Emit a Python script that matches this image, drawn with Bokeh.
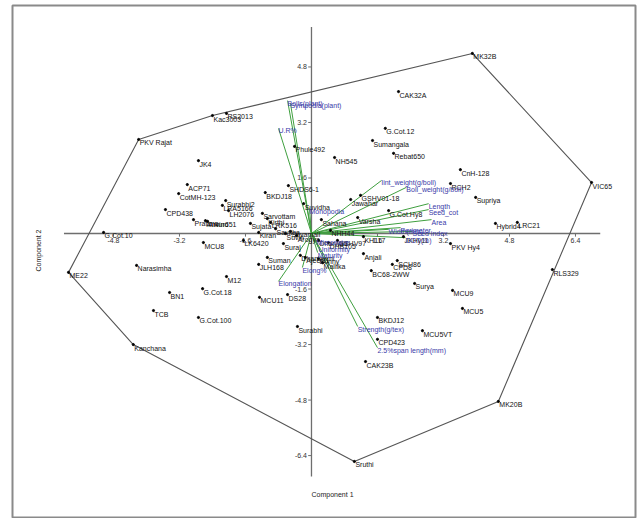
from bokeh.plotting import figure
from bokeh.models import ColumnDataSource
from bokeh.embed import file_html
from bokeh.resources import INLINE
from bokeh.core.properties import value
import numpy as np

# ---------------- data ----------------
geno_names = [
    "PKV Rajat", "Kac3003", "RS2013", "MK32B", "VIC65", "RLS329", "MK20B", "Sruthi",
    "Kanchana", "ME22", "JK4", "ACP71", "CotMH-123", "CPD438", "Pratima", "Ankur651",
    "Arvind", "Surabhi2", "LRA5166", "LH2076", "BKDJ18", "SHDS6-1", "Phule492", "G.Cot.10",
    "Narasimha", "MCU8", "M12", "G.Cot.18", "BN1", "TCB", "G.Cot.100", "MCU11", "DS28",
    "Surabhi", "Suman", "JLH168", "CAK32A", "G.Cot.12", "Sumangala", "Rebat650", "NH545",
    "CnH-128", "RCH2", "Supriya", "Hybrid4", "LRC21", "PKV Hy4", "Anjali", "SCH86", "CPD8",
    "BC68-2WW", "Surya", "MCU9", "MCU5", "BKDJ12", "MCU5VT", "CPD423", "CAK23B", "Jawahar",
    "GSHV01-18", "G.Cot.Hy8", "Sahana", "Varsha", "Suvidha", "JKHy11", "LK6420", "Suraj",
    "Kirthi", "LRK516", "Sarvottam", "Savitha", "Suvin", "Shyamali", "Arogya", "Dharwad",
    "DHB105", "GSHV97", "NHH44", "KH117", "Ajeet11", "Bunny", "Mallika", "Sujata", "Kiran",
    "Dhanlaxmi",
]
geno_pc1 = [
    -4.19, -2.40, -2.06, 3.90, 6.79, 5.84, 4.53, 1.04,
    -4.32, -5.89, -2.74, -3.01, -3.22, -3.54, -2.86, -2.57,
    -2.52, -2.08, -2.16, -2.01, -1.12, -0.56, -0.41, -5.04,
    -4.24, -2.62, -2.06, -2.64, -3.44, -3.83, -2.74, -1.26, -0.58,
    -0.34, -1.07, -1.28, 2.11, 1.79, 1.48, 1.99, 0.56,
    3.61, 3.37, 3.98, 4.46, 4.99, 3.37, 1.26, 2.08, 1.96,
    1.45, 2.50, 3.42, 3.66, 1.60, 2.69, 1.60, 1.31, 0.95,
    1.19, 1.87, 0.24, 1.12, -0.19, 2.23, -1.65, -0.68,
    -1.07, -0.99, -1.19, -0.87, -0.63, -0.51, -0.36, 0.17,
    0.41, 0.63, 0.46, 1.26, -0.15, 0.17, 0.27, -1.48, -1.28,
    -0.27,
]
geno_pc2 = [
    2.71, 3.40, 3.46, 5.19, 1.47, -1.04, -4.84, -6.57,
    -3.20, -1.12, 2.10, 1.41, 1.15, 0.69, 0.40, 0.37,
    0.35, 0.95, 0.81, 0.66, 1.18, 1.38, 2.51, 0.03,
    -0.92, -0.26, -1.24, -1.59, -1.70, -2.22, -2.42, -1.84, -1.76,
    -2.68, -0.69, -0.89, 4.09, 3.03, 2.68, 2.31, 2.19,
    1.84, 1.44, 1.04, 0.29, 0.32, -0.29, -0.58, -0.78, -0.89,
    -1.07, -1.44, -1.64, -2.16, -2.42, -2.80, -3.05, -3.69, 0.98,
    1.10, 0.66, 0.40, 0.46, 0.86, -0.09, -0.20, -0.29,
    0.43, 0.32, 0.58, 0.14, 0.00, 0.06, -0.06, -0.20,
    -0.26, -0.20, 0.09, -0.09, -0.69, -0.72, -0.84, 0.29, 0.03,
    -0.63,
]

var_names = [
    "Bolls(plant)", "Sympodia(plant)", "U.R%", "Monopodia", "lint_weight(g/boll)",
    "Boll_weight(g/boll)", "Length", "Seed_cot", "Area", "Width(mm)", "Seed index",
    "Perimeter", "GOT(%)", "Micronaire", "Uniformity", "Maturity", "Elong%",
    "Elongation", "Strength(g/tex)", "2.5%span length(mm)",
]
var_pc1 = [
    -0.58, -0.51, -0.80, -0.05, 1.70,
    2.30, 2.84, 2.84, 2.91, 1.87, 2.45,
    2.16, 2.28, 0.12, 0.17, 0.15, -0.22,
    -0.80, 1.12, 1.60,
]
var_pc2 = [
    3.83, 3.75, 3.03, 0.72, 1.53,
    1.33, 0.86, 0.69, 0.40, 0.12, 0.06,
    0.17, -0.12, -0.20, -0.40, -0.55, -0.98,
    -1.38, -2.68, -3.29,
]

x_ticks = [-4.8, -3.2, -1.6, 1.6, 3.2, 4.8, 6.4]
y_ticks = [-6.4, -4.8, -3.2, -1.6, 1.6, 3.2, 4.8]
x_axis_span = [-6.0, 7.0]
y_axis_span = [-7.0, 5.95]

# ---------------- figure ----------------
FONT = value("Liberation Sans")
p = figure(width=639, height=518, output_backend="svg", toolbar_location=None,
           x_range=(-7.248, 7.855), y_range=(-8.213, 6.571),
           x_axis_location=None, y_axis_location=None,
           min_border_left=12, min_border_right=4, min_border_top=5, min_border_bottom=0)
p.grid.grid_line_color = None
p.outline_line_color = "#8a8a8a"
p.outline_line_width = 2
p.background_fill_color = "white"
p.border_fill_color = "white"

# crossing axes
p.segment(x0=[x_axis_span[0]], y0=[0], x1=[x_axis_span[1]], y1=[0], line_color="#6e6e6e", line_width=1.3)
p.segment(x0=[0], y0=[y_axis_span[0]], x1=[0], y1=[y_axis_span[1]], line_color="#6e6e6e", line_width=1.3)
xt = np.array(x_ticks)
yt = np.array(y_ticks)
p.segment(x0=xt, y0=np.zeros_like(xt), x1=xt, y1=np.full_like(xt, -0.09), line_color="#6e6e6e", line_width=1)
p.segment(x0=np.zeros_like(yt), y0=yt, x1=np.full_like(yt, -0.08), y1=yt, line_color="#6e6e6e", line_width=1)
p.text(x=xt, y=np.full_like(xt, -0.12), text=[f"{v:g}" for v in x_ticks],
       text_font=FONT, text_font_size="7px", text_align="center", text_baseline="top", text_color="#333333")
p.text(x=np.full_like(yt, -0.11), y=yt, text=[f"{v:g}" for v in y_ticks],
       text_font=FONT, text_font_size="7px", text_align="right", text_baseline="middle", text_color="#333333")

# convex hull of genotype scores
pts = sorted(set(zip(geno_pc1, geno_pc2)))
def cross(o, a, b):
    return (a[0] - o[0]) * (b[1] - o[1]) - (a[1] - o[1]) * (b[0] - o[0])
lower, upper = [], []
for pt in pts:
    while len(lower) >= 2 and cross(lower[-2], lower[-1], pt) <= 0:
        lower.pop()
    lower.append(pt)
for pt in reversed(pts):
    while len(upper) >= 2 and cross(upper[-2], upper[-1], pt) <= 0:
        upper.pop()
    upper.append(pt)
hull = lower[:-1] + upper[:-1] + [lower[0]]
p.line([h[0] for h in hull], [h[1] for h in hull], line_color="#555555", line_width=1.1)

# loadings vectors
vsrc = ColumnDataSource(dict(x=var_pc1, y=var_pc2, name=var_names,
                             x0=[0] * len(var_names), y0=[0] * len(var_names)))
p.segment(x0="x0", y0="y0", x1="x", y1="y", source=vsrc, line_color="#3f9f3f", line_width=1)

# genotype points + labels
gsrc = ColumnDataSource(dict(x=geno_pc1, y=geno_pc2, name=geno_names))
p.scatter(x="x", y="y", source=gsrc, size=2.2, color="black")
p.text(x="x", y="y", text="name", source=gsrc, x_offset=1, y_offset=0,
       text_font=FONT, text_font_size="7px", text_baseline="top", text_color="#111111")

# variable labels
p.text(x="x", y="y", text="name", source=vsrc, x_offset=0, y_offset=-1,
       text_font=FONT, text_font_size="7px", text_baseline="top", text_color="#3a3aa8")

# axis titles
p.text(x=[0.51], y=[-7.52], text=["Component 1"], text_font=FONT, text_font_size="7px",
       text_align="center", text_baseline="middle", text_color="#222222")
p.text(x=[-6.62], y=[-0.49], text=["Component 2"], text_font=FONT, text_font_size="7px",
       text_align="center", text_baseline="middle", text_color="#222222", angle=np.pi / 2)

open("out.html", "w").write(file_html(p, INLINE))
